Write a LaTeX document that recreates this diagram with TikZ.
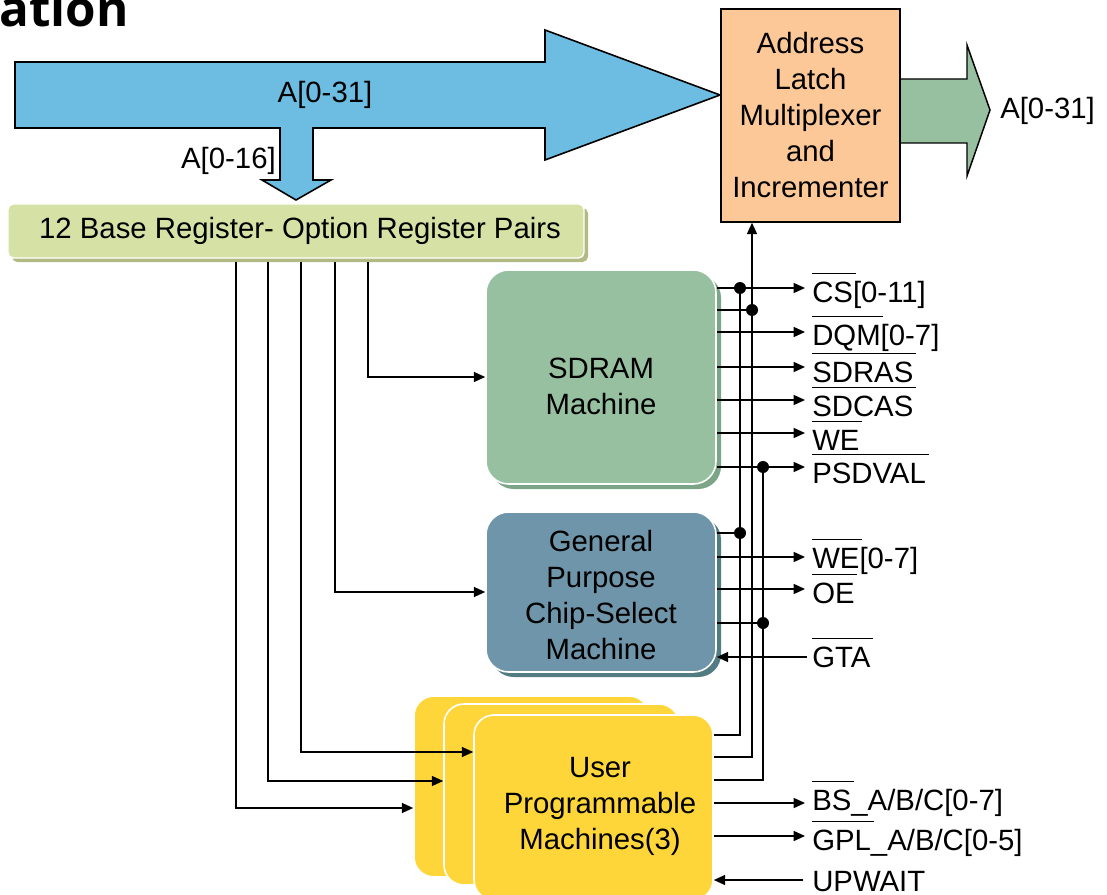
\documentclass[tikz,border=0pt]{standalone}
\usepackage{fontspec}
\setmainfont{Liberation Sans}
\newfontfamily\headfont{Open Sans}
\usetikzlibrary{arrows.meta,shadows}

% colours
\definecolor{busblue}{HTML}{6DBDE3}
\definecolor{latchfill}{HTML}{FDC897}
\definecolor{busgreen}{HTML}{97C0A1}
\definecolor{regfill}{HTML}{D6E1A6}
\definecolor{regshadow}{HTML}{B3B982}
\definecolor{sdfill}{HTML}{97C0A1}
\definecolor{sdshadow}{HTML}{7BA586}
\definecolor{gpfill}{HTML}{6E95A9}
\definecolor{gpshadow}{HTML}{537C82}
\definecolor{upfill}{HTML}{FED639}

% active-low signal name: bar drawn above the given text
\newcommand\ovl[1]{\setbox0=\hbox{#1}\rlap{\rule[\dimexpr\ht0+5.5pt\relax]{\dimexpr\wd0+2pt\relax}{0.8pt}}\box0}

\begin{document}
\begin{tikzpicture}[x=0.75pt,y=-0.75pt,
  font=\fontsize{22}{27}\selectfont,
  wire/.style={line width=1.1pt},
  sigarrow/.style={-{Triangle[length=8.5pt,width=7.5pt]}},
  sig/.style={anchor=base west,inner sep=0pt},
  boxtext/.style={align=center,inner sep=0pt,font=\fontsize{22}{27}\selectfont},
  machine/.style={draw=white,line width=1.2pt,rounded corners=17pt,inner sep=0pt},
  dot/.style={radius=4.5pt}]
\path[use as bounding box] (0,0) rectangle (1107,895);
\clip (0,0) rectangle (1107,895);

% heading
\node[anchor=base west,inner sep=0pt,font=\headfont\bfseries\fontsize{37}{42}\selectfont] (title) at (-1,27) {ation};

% internal address bus with the A[0-16] branch
\draw[fill=busblue,line width=1.2pt,line join=miter]
  (15,62) -- (545,62) -- (545,30) -- (720,95) -- (545,160) -- (545,128)
  -- (313,128) -- (313,180) -- (331,180) -- (296,200) -- (262,180) -- (280,180)
  -- (280,128) -- (15,128) -- cycle;
\node (ain) at (325,95) {A[0-31]};
\node[anchor=east,inner sep=0pt] (a16) at (276,161) {A[0-16]};

% external address bus
\fill[busgreen] (900,79) -- (967,79) -- (967,45) -- (990,110) -- (967,176) -- (967,143) -- (900,143) -- cycle;
\draw[line width=1.1pt] (900,79) -- (967,79) -- (967,45) -- (990,110) -- (967,176) -- (967,143) -- (900,143);
\node[anchor=west,inner sep=0pt] (aout) at (1000,111) {A[0-31]};

% address latch
\node[draw=black,line width=1.1pt,fill=latchfill,minimum width=134.25pt,minimum height=159.75pt,
      align=center,inner sep=0pt] (addr) at (810.5,115.5)
  {Address\\Latch\\Multiplexer\\and\\Incrementer};

% register pairs
\node[draw=white,line width=1pt,fill=regfill,rounded corners=4pt,minimum width=432pt,minimum height=40.5pt,
      inner sep=0pt,drop shadow={shadow xshift=3pt,shadow yshift=-3pt,fill=regshadow,opacity=1}]
  (bp) at (296,231) {};
\node[inner sep=0pt] (bptext) at (300,231) {12 Base Register- Option Register Pairs};

% machines
\node[machine,fill=sdfill,minimum width=172.5pt,minimum height=160.5pt,
      drop shadow={shadow xshift=3.75pt,shadow yshift=-3.75pt,fill=sdshadow,opacity=1},
      label={[boxtext,yshift=-6.75pt]center:{SDRAM\\Machine}}]
  (sdram) at (601,377) {};
\node[machine,fill=gpfill,minimum width=172.5pt,minimum height=120pt,
      drop shadow={shadow xshift=3.75pt,shadow yshift=-3.75pt,fill=gpshadow,opacity=1},
      label={[boxtext,yshift=-2.25pt]center:{General\\Purpose\\Chip-Select\\Machine}}]
  (gpcm) at (601,592) {};
\node[machine,rounded corners=15pt,fill=upfill,minimum width=176.25pt,minimum height=135.75pt] (upmC) at (531.5,786.5) {};
\node[machine,rounded corners=15pt,fill=upfill,minimum width=176.25pt,minimum height=135.75pt] (upmB) at (561.5,794.5) {};
\node[machine,rounded corners=15pt,fill=upfill,minimum width=179.25pt,minimum height=138.75pt,
      label={[boxtext,xshift=4.9pt,yshift=1.1pt]center:{User\\Programmable\\Machines(3)}}]
  (upmA) at (593.5,807.5) {};

% chip-select lines from the register pairs
\coordinate (r1) at (236,262);
\coordinate (r2) at (268,262);
\coordinate (r3) at (301,262);
\coordinate (r4) at (335,262);
\coordinate (r5) at (368,262);
\coordinate (e1) at (0,808);
\coordinate (e2) at (0,781);
\coordinate (e3) at (0,752);
\draw[wire,sigarrow] (r5) |- (sdram.west);
\draw[wire,sigarrow] (r4) |- (gpcm.west);
\draw[wire,sigarrow] (r3) |- (upmA.west |- e3);
\draw[wire,sigarrow] (r2) |- (upmB.west |- e2);
\draw[wire,sigarrow] (r1) |- (upmC.west |- e1);

% shared vertical lines
\coordinate (j1) at (740,288);
\coordinate (j2) at (752,310);
\coordinate (j3) at (763,467);
\coordinate (j4) at (740,533);
\coordinate (j5) at (763,623);
\coordinate (u1) at (740,735);
\coordinate (u2) at (752,757);
\coordinate (u3) at (763,780);
\draw[wire] (upmA.east |- u1) -- (u1) -- (j1);
\draw[wire,sigarrow] (upmA.east |- u2) -- (u2) -- (addr.south -| u2);
\draw[wire] (upmA.east |- u3) -- (u3) -- (j3);

% output / input signal ends
\coordinate (oCS) at (805,288);
\coordinate (oDQM) at (805,332);
\coordinate (oRAS) at (805,367);
\coordinate (oCAS) at (805,400);
\coordinate (oWE) at (805,433);
\coordinate (oPSD) at (805,467);
\coordinate (oWEB) at (805,557);
\coordinate (oOE) at (805,589);
\coordinate (iGTA) at (807,657);
\coordinate (oBS) at (805,803);
\coordinate (oGPL) at (805,836);
\coordinate (iUPW) at (803,880);

% SDRAM machine signals
\draw[wire,sigarrow] (sdram.east |- oCS) -- (oCS);
\draw[wire] (sdram.east |- j2) -- (j2);
\draw[wire,sigarrow] (sdram.east |- oDQM) -- (oDQM);
\draw[wire,sigarrow] (sdram.east |- oRAS) -- (oRAS);
\draw[wire,sigarrow] (sdram.east |- oCAS) -- (oCAS);
\draw[wire,sigarrow] (sdram.east |- oWE) -- (oWE);
\draw[wire,sigarrow] (sdram.east |- oPSD) -- (oPSD);

% GPCM signals
\draw[wire] (gpcm.east |- j4) -- (j4);
\draw[wire,sigarrow] (gpcm.east |- oWEB) -- (oWEB);
\draw[wire,sigarrow] (gpcm.east |- oOE) -- (oOE);
\draw[wire] (gpcm.east |- j5) -- (j5);
\draw[wire,sigarrow] (iGTA) -- (gpcm.east |- iGTA);

% UPM signals
\draw[wire,sigarrow] (upmA.east |- oBS) -- (oBS);
\draw[wire,sigarrow] (upmA.east |- oGPL) -- (oGPL);
\draw[wire,sigarrow] (iUPW) -- (upmA.east |- iUPW);

% junction dots
\foreach \j in {j1,j2,j3,j4,j5} \fill (\j) circle[dot];

% signal names
\node[sig] (lCS) at (812,302) {\ovl{CS}[0-11]};
\node[sig] (lDQM) at (812,345) {\ovl{DQM}[0-7]};
\node[sig] (lRAS) at (812,382) {\ovl{SDRAS}};
\node[sig] (lCAS) at (812,416) {\ovl{SDCAS}};
\node[sig] (lWE) at (812,450) {\ovl{WE}};
\node[sig] (lPSD) at (812,483) {\ovl{PSDVAL}};
\node[sig] (lWEB) at (812,568) {\ovl{WE}[0-7]};
\node[sig] (lOE) at (812,603) {\ovl{OE}};
\node[sig] (lGTA) at (812,667) {\ovl{GTA}};
\node[sig] (lBS) at (812,810) {\ovl{BS}\_A/B/C[0-7]};
\node[sig] (lGPL) at (812,850) {\ovl{GPL}\_A/B/C[0-5]};
\node[sig] (lUPW) at (812,891) {UPWAIT};
\end{tikzpicture}
\end{document}
